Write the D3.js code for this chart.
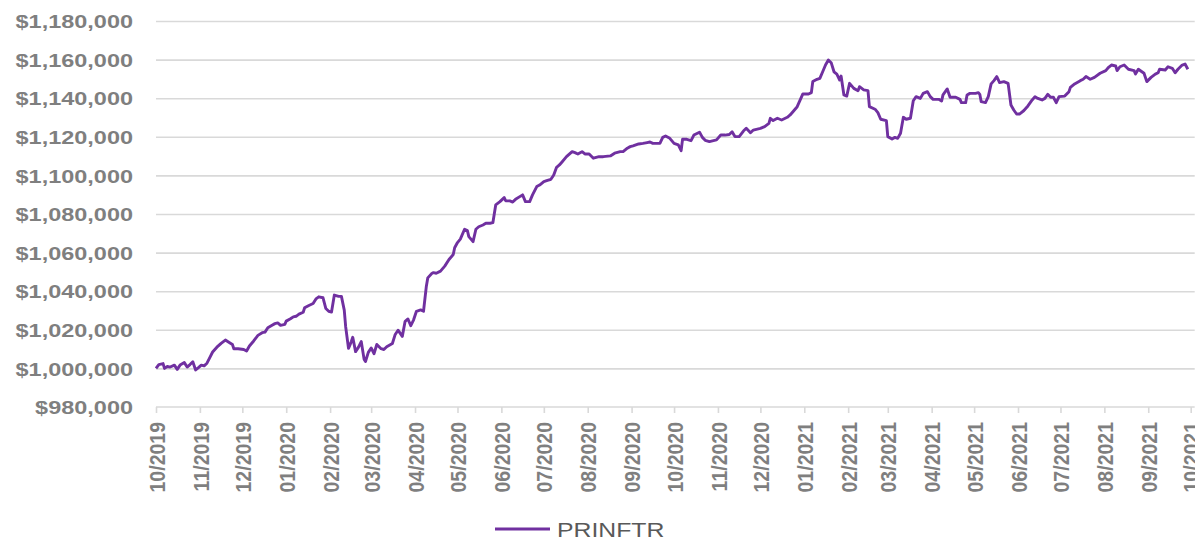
<!DOCTYPE html>
<html>
<head>
<meta charset="utf-8">
<script src="https://cdn.jsdelivr.net/npm/d3@7"></script>
<style>
  html, body { margin: 0; padding: 0; background: #fff; }
  #chart { width: 1195px; height: 538px; }
  text { font-family: "Liberation Sans", Arial, sans-serif; }
</style>
</head>
<body>
<div id="chart"></div>
<script>
// series: PRINFTR
const seriesName = "PRINFTR";

const dates = [
  "2019-10-01","2019-10-03","2019-10-06","2019-10-07","2019-10-09","2019-10-11","2019-10-14","2019-10-16","2019-10-18","2019-10-21",
  "2019-10-23","2019-10-25","2019-10-27","2019-10-29","2019-10-31","2019-11-02","2019-11-04","2019-11-06","2019-11-08","2019-11-10",
  "2019-11-13","2019-11-16","2019-11-19","2019-11-22","2019-11-24","2019-11-25","2019-11-28","2019-12-02","2019-12-04","2019-12-06",
  "2019-12-09","2019-12-12","2019-12-15","2019-12-17","2019-12-19","2019-12-22","2019-12-24","2019-12-26","2019-12-28","2019-12-31",
  "2020-01-01","2020-01-04","2020-01-06","2020-01-08","2020-01-10","2020-01-13","2020-01-14","2020-01-17","2020-01-20","2020-01-22",
  "2020-01-24","2020-01-27","2020-01-29","2020-01-31","2020-02-02","2020-02-04","2020-02-07","2020-02-09","2020-02-11","2020-02-12",
  "2020-02-14","2020-02-16","2020-02-17","2020-02-19","2020-02-21","2020-02-23","2020-02-25","2020-02-26","2020-02-28","2020-03-01",
  "2020-03-03","2020-03-05","2020-03-08","2020-03-10","2020-03-12","2020-03-16","2020-03-18","2020-03-20","2020-03-23","2020-03-25",
  "2020-03-27","2020-03-29","2020-03-31","2020-04-02","2020-04-05","2020-04-07","2020-04-09","2020-04-10","2020-04-13","2020-04-14",
  "2020-04-16","2020-04-19","2020-04-22","2020-04-25","2020-04-28","2020-04-29","2020-05-01","2020-05-03","2020-05-06","2020-05-08",
  "2020-05-09","2020-05-12","2020-05-14","2020-05-16","2020-05-19","2020-05-21","2020-05-24","2020-05-26","2020-05-28","2020-05-31",
  "2020-06-03","2020-06-04","2020-06-07","2020-06-09","2020-06-11","2020-06-14","2020-06-16","2020-06-18","2020-06-21","2020-06-23",
  "2020-06-26","2020-06-28","2020-07-01","2020-07-03","2020-07-06","2020-07-08","2020-07-10","2020-07-12","2020-07-14","2020-07-17",
  "2020-07-21","2020-07-23","2020-07-25","2020-07-28","2020-07-30","2020-08-02","2020-08-05","2020-08-09","2020-08-12","2020-08-17",
  "2020-08-20","2020-08-24","2020-08-26","2020-08-29","2020-08-31","2020-09-02","2020-09-06","2020-09-09","2020-09-12","2020-09-14",
  "2020-09-16","2020-09-21","2020-09-23","2020-09-25","2020-09-28","2020-10-01","2020-10-04","2020-10-06","2020-10-07","2020-10-10",
  "2020-10-13","2020-10-15","2020-10-19","2020-10-21","2020-10-23","2020-10-26","2020-10-31","2020-11-03","2020-11-06","2020-11-09",
  "2020-11-11","2020-11-13","2020-11-16","2020-11-19","2020-11-21","2020-11-24","2020-11-26","2020-12-01","2020-12-04","2020-12-07",
  "2020-12-08","2020-12-10","2020-12-13","2020-12-16","2020-12-20","2020-12-22","2020-12-24","2020-12-27","2020-12-31","2021-01-04",
  "2021-01-06","2021-01-07","2021-01-10","2021-01-12","2021-01-14","2021-01-16","2021-01-18","2021-01-20","2021-01-22","2021-01-24",
  "2021-01-26","2021-01-27","2021-01-29","2021-01-31","2021-02-02","2021-02-05","2021-02-08","2021-02-09","2021-02-12","2021-02-15",
  "2021-02-16","2021-02-20","2021-02-22","2021-02-24","2021-02-28","2021-03-01","2021-03-04","2021-03-06","2021-03-08","2021-03-10",
  "2021-03-12","2021-03-14","2021-03-17","2021-03-19","2021-03-21","2021-03-24","2021-03-26","2021-03-29","2021-03-31","2021-04-02",
  "2021-04-06","2021-04-08","2021-04-09","2021-04-12","2021-04-14","2021-04-18","2021-04-21","2021-04-22","2021-04-25","2021-04-26",
  "2021-04-28","2021-05-02","2021-05-04","2021-05-05","2021-05-06","2021-05-09","2021-05-11","2021-05-13","2021-05-15","2021-05-17",
  "2021-05-19","2021-05-22","2021-05-25","2021-05-27","2021-05-29","2021-05-31","2021-06-02","2021-06-05","2021-06-08","2021-06-11",
  "2021-06-13","2021-06-15","2021-06-18","2021-06-20","2021-06-22","2021-06-24","2021-06-26","2021-06-28","2021-06-30","2021-07-04",
  "2021-07-07","2021-07-08","2021-07-11","2021-07-15","2021-07-17","2021-07-19","2021-07-22","2021-07-25","2021-07-29","2021-08-02",
  "2021-08-04","2021-08-06","2021-08-09","2021-08-10","2021-08-12","2021-08-15","2021-08-18","2021-08-22","2021-08-23","2021-08-25",
  "2021-08-29","2021-08-31","2021-09-03","2021-09-06","2021-09-08","2021-09-09","2021-09-13","2021-09-15","2021-09-18","2021-09-20",
  "2021-09-22","2021-09-25","2021-09-27","2021-09-29"
];

const values = [
  1000000,1002000,1002500,1000000,1001000,1000700,1001700,999500,1001700,1003000,
  1000700,1002000,1003400,999200,1000400,1001700,1001300,1002700,1005600,1008500,
  1011000,1013000,1014700,1013300,1012400,1010200,1010200,1009800,1009000,1011600,
  1014200,1017100,1018500,1018800,1021100,1022400,1023200,1023600,1022300,1022800,
  1024500,1025700,1026700,1027000,1028100,1029100,1031400,1032600,1033600,1036000,
  1037100,1036600,1031000,1029600,1029200,1038000,1037300,1037300,1030200,1021600,
  1010400,1013900,1016100,1008700,1010900,1013900,1004800,1003600,1008300,1010600,
  1007600,1012400,1010200,1009800,1011200,1012900,1017600,1019800,1016600,1024400,
  1025600,1022100,1025200,1029600,1030300,1029600,1042600,1046900,1049300,1049600,
  1049300,1050400,1053000,1056400,1059000,1062500,1065200,1067000,1072100,1071400,
  1068300,1065700,1072100,1073400,1074300,1075200,1075200,1075500,1084700,1086400,
  1088500,1086900,1086800,1086200,1087600,1089000,1089900,1086400,1086400,1089900,
  1094200,1095000,1096800,1097300,1098000,1100200,1104200,1105400,1107100,1109700,
  1112300,1111800,1111100,1112300,1111100,1111100,1108900,1109700,1109700,1110100,
  1111500,1112300,1112300,1114100,1114900,1115300,1116300,1116600,1117000,1117300,
  1116600,1116600,1119700,1120400,1119200,1116600,1115800,1112800,1118700,1118700,
  1118000,1120900,1122400,1119700,1118200,1117500,1118400,1120900,1120900,1121200,
  1122600,1120100,1120100,1123000,1124400,1122100,1123500,1124400,1125300,1127000,
  1129600,1128400,1129600,1128700,1130100,1131300,1133000,1135600,1142200,1142200,
  1142900,1148600,1149800,1150300,1153700,1157200,1159800,1158400,1153700,1152500,
  1149400,1151500,1141700,1141100,1147700,1145100,1143900,1146000,1144300,1143900,
  1135600,1134300,1132500,1129100,1128400,1120100,1118900,1119700,1119200,1121800,
  1130100,1129100,1129600,1138700,1140800,1139900,1142500,1143400,1140800,1139400,
  1139400,1138500,1141700,1144800,1140500,1140500,1139400,1137700,1137700,1141700,
  1142500,1142500,1142900,1142000,1138200,1137700,1140800,1147400,1149100,1151200,
  1148100,1148600,1147700,1136500,1133900,1131800,1131800,1133500,1136000,1139100,
  1140800,1139900,1139100,1139900,1142000,1140500,1140500,1137700,1140800,1141100,
  1143400,1145600,1147400,1149100,1149800,1151200,1149800,1150800,1152900,1154300,
  1156000,1157200,1156700,1154300,1156300,1157200,1155000,1154300,1152500,1155000,
  1152900,1148600,1150800,1152500,1153200,1155000,1154600,1156300,1155500,1153200,
  1155000,1157200,1157700,1155000
];

const xDomain = ["2019-10-01", "2021-10-01"];
const yTicks = [980000, 1000000, 1020000, 1040000, 1060000, 1080000, 1100000, 1120000, 1140000, 1160000, 1180000];

const parseDate = d3.timeParse("%Y-%m-%d");
const data = dates.map((d, i) => ({ date: parseDate(d), value: values[i] }));

const W = 1195, H = 538;
const margin = { top: 21, right: 4.3, bottom: 131, left: 156 };
const width = W - margin.left - margin.right;
const height = H - margin.top - margin.bottom;

const textGrey = "#7f7f7f";
const gridGrey = "#d9d9d9";
const lineColor = "#7030a0";

const svg = d3.select("#chart").append("svg")
    .attr("width", W)
    .attr("height", H);

const g = svg.append("g")
    .attr("transform", `translate(${margin.left},${margin.top})`);

const x = d3.scaleTime()
    .domain(xDomain.map(parseDate))
    .range([0, width]);

const y = d3.scaleLinear()
    .domain([yTicks[0], yTicks[yTicks.length - 1]])
    .range([height, 0]);

// horizontal grid
g.append("g")
    .call(d3.axisLeft(y).tickValues(yTicks.slice(1)).tickSize(-(width + 4)).tickFormat(""))
    .call(a => a.select(".domain").remove())
    .call(a => a.selectAll("line").attr("stroke", gridGrey).attr("stroke-width", 1.6));

// y labels
const fmt = d3.format(",");
g.append("g")
    .call(d3.axisLeft(y).tickValues(yTicks).tickSize(0).tickFormat(d => "$" + fmt(d)))
    .call(a => a.select(".domain").remove())
    .call(a => a.selectAll("text")
        .attr("x", null)
        .attr("dy", "0.36em")
        .attr("transform", "translate(-23,0) scale(1.27,1)")
        .attr("fill", textGrey)
        .style("font-size", "18.5px")
        .style("font-weight", "bold"));

// x axis
g.append("g")
    .attr("transform", `translate(0,${height})`)
    .call(d3.axisBottom(x).ticks(d3.timeMonth.every(1)).tickSize(6).tickFormat(d3.timeFormat("%m/%Y")))
    .call(a => a.select(".domain").attr("stroke", gridGrey).attr("stroke-width", 1.6)
        .attr("d", `M0,0H${width + 4}`))
    .call(a => a.selectAll("line").attr("stroke", gridGrey).attr("stroke-width", 1.6))
    .call(a => a.selectAll("text")
        .attr("x", 0)
        .attr("y", 0)
        .attr("dy", "0.36em")
        .attr("text-anchor", "end")
        .attr("transform", "translate(0,15) rotate(-90) scale(1,1.16)")
        .attr("fill", textGrey)
        .style("font-size", "19.5px")
        .style("font-weight", "bold"));

// the series
const line = d3.line()
    .x(d => x(d.date))
    .y(d => y(d.value));

g.append("path")
    .datum(data)
    .attr("fill", "none")
    .attr("stroke", lineColor)
    .attr("stroke-width", 2.9)
    .attr("stroke-linejoin", "round")
    .attr("d", line);

// legend
const legend = svg.append("g").attr("transform", "translate(495,529)");
legend.append("line")
    .attr("x1", 0).attr("x2", 55)
    .attr("stroke", lineColor)
    .attr("stroke-width", 2.9);
legend.append("text")
    .attr("transform", "translate(62,7.5) scale(1.18,1)")
    .attr("fill", "#595959")
    .style("font-size", "21px")
    .text(seriesName);
</script>
</body>
</html>
